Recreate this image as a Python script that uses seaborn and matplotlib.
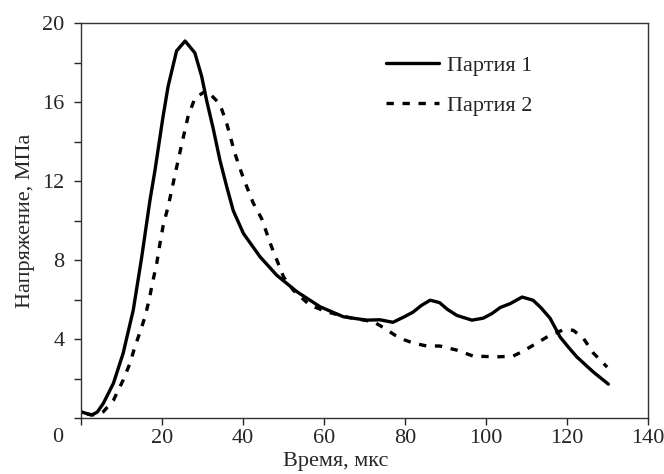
import numpy as np
import pandas as pd
import matplotlib
matplotlib.use("Agg")
import matplotlib.pyplot as plt
import seaborn as sns
from matplotlib.ticker import MultipleLocator

# Data
t1 = [0, 2.6, 4, 5.5, 8, 10.4, 12.9, 15, 17, 18.3, 20.2, 21.5, 23.6, 25.7, 28.1, 29.8, 31, 32.6,
      34.3, 36, 37.6, 40.1, 44.2, 48.3, 53.3, 59, 64.8, 70.5, 73.8, 77, 80, 82, 84, 86.2, 88.5,
      90.5, 92.8, 96.5, 99.3, 101.5, 103.5, 106, 108.9, 111.6, 113.5, 115.8, 118.3, 120.5, 122.4,
      126.5, 130.2]
v1 = [0.32, 0.15, 0.3, 0.74, 1.76, 3.28, 5.47, 8.17, 11.0, 12.6, 15.2, 16.8, 18.6, 19.1, 18.5, 17.3, 16.1, 14.7,
      13.06, 11.7, 10.5, 9.35, 8.17, 7.24, 6.4, 5.64, 5.13, 4.96, 4.98, 4.85, 5.15, 5.37, 5.7, 5.97, 5.85,
      5.5, 5.2, 4.96, 5.06, 5.3, 5.6, 5.8, 6.13, 5.97, 5.6, 5.06, 4.1, 3.55, 3.1,
      2.33, 1.72]

t2 = [1.5, 3.9, 5.5, 8, 10.4, 12.1, 13.3, 14.6, 15.8, 16.8, 17.7, 18.7, 19.5, 20.3, 21.5, 23.6, 24.9,
      26.4, 28.1, 31, 34.3, 36, 38, 40, 42.5, 44.6, 47, 50, 52.4, 56.5, 60.7, 66, 72.2, 75, 77.5,
      80, 82, 85.4, 88.6, 92.8, 96.8, 102.7, 106.7, 108.8, 110.9, 115, 118.8, 121.5, 124, 126.5, 129.9]
v2 = [0.2, 0.15, 0.32, 0.9, 1.92, 2.78, 3.61, 4.37, 5.13, 5.97, 6.9, 7.84, 8.85, 9.77, 10.7, 12.7, 13.9,
      15.25, 16.2, 16.6, 15.9, 14.9, 13.4, 12.2, 10.9, 10.1, 8.7, 7.15, 6.48, 5.72, 5.38, 5.1, 4.88, 4.54, 4.2,
      3.95, 3.8, 3.65, 3.65, 3.44, 3.14, 3.1, 3.14, 3.35, 3.6, 4.1, 4.45, 4.45, 4.05, 3.29, 2.58]

labels = ["Партия 1", "Партия 2"]
x_ticks = [0, 20, 40, 60, 80, 100, 120, 140]
y_ticks = [4, 8, 12, 16, 20]

sns.set_style("ticks")
plt.rcParams['font.family'] = ['Liberation Serif', 'DejaVu Serif']
text_color = "#262626"
plt.rcParams['text.color'] = text_color
plt.rcParams['axes.labelcolor'] = text_color
plt.rcParams['xtick.color'] = text_color
plt.rcParams['ytick.color'] = text_color

df1 = pd.DataFrame({"t": t1, "v": v1})
df2 = pd.DataFrame({"t": t2, "v": v2})

fig = plt.figure(figsize=(6.64, 4.74), dpi=100)
ax = fig.add_axes([0.122, 0.118, 0.854, 0.833])

sns.lineplot(data=df1, x="t", y="v", ax=ax, color="black", lw=2.4, label=labels[0], sort=False)
sns.lineplot(data=df2, x="t", y="v", ax=ax, color="black", lw=2.4, label=labels[1], sort=False,
             linestyle=(0, (2.2, 2.6)))

ax.set_xlim(0, 140)
ax.set_ylim(0, 20)
ax.set_xticks(x_ticks)
ax.set_xticklabels([""] + [str(v) for v in x_ticks[1:]])
ax.set_yticks(y_ticks)
ax.set_yticklabels([str(v) for v in y_ticks])
ax.yaxis.set_minor_locator(MultipleLocator(2))
ax.tick_params(axis="both", which="both", direction="out", length=5, width=1)
ax.tick_params(axis="y", which="major", pad=7, labelsize=16)
ax.tick_params(axis="x", which="major", pad=3, labelsize=16)
ax.text(-0.041, -0.05, "0", transform=ax.transAxes, ha="center", va="center", fontsize=16)

for s in ax.spines.values():
    s.set_visible(True)
    s.set_color("#333333")
    s.set_linewidth(1.0)

ax.set_xlabel("Время, мкс", fontsize=16)
ax.set_ylabel("Напряжение, МПа", fontsize=16)
ax.xaxis.set_label_coords(0.45, -0.086)
ax.yaxis.set_label_coords(-0.082, 0.5)

leg = ax.legend(loc="upper left", bbox_to_anchor=(0.538, 0.918), frameon=False, fontsize=16,
                handlelength=2.4, handletextpad=0.36, labelspacing=0.85, borderaxespad=0, borderpad=0)

fig.savefig("out.png", dpi=100)
